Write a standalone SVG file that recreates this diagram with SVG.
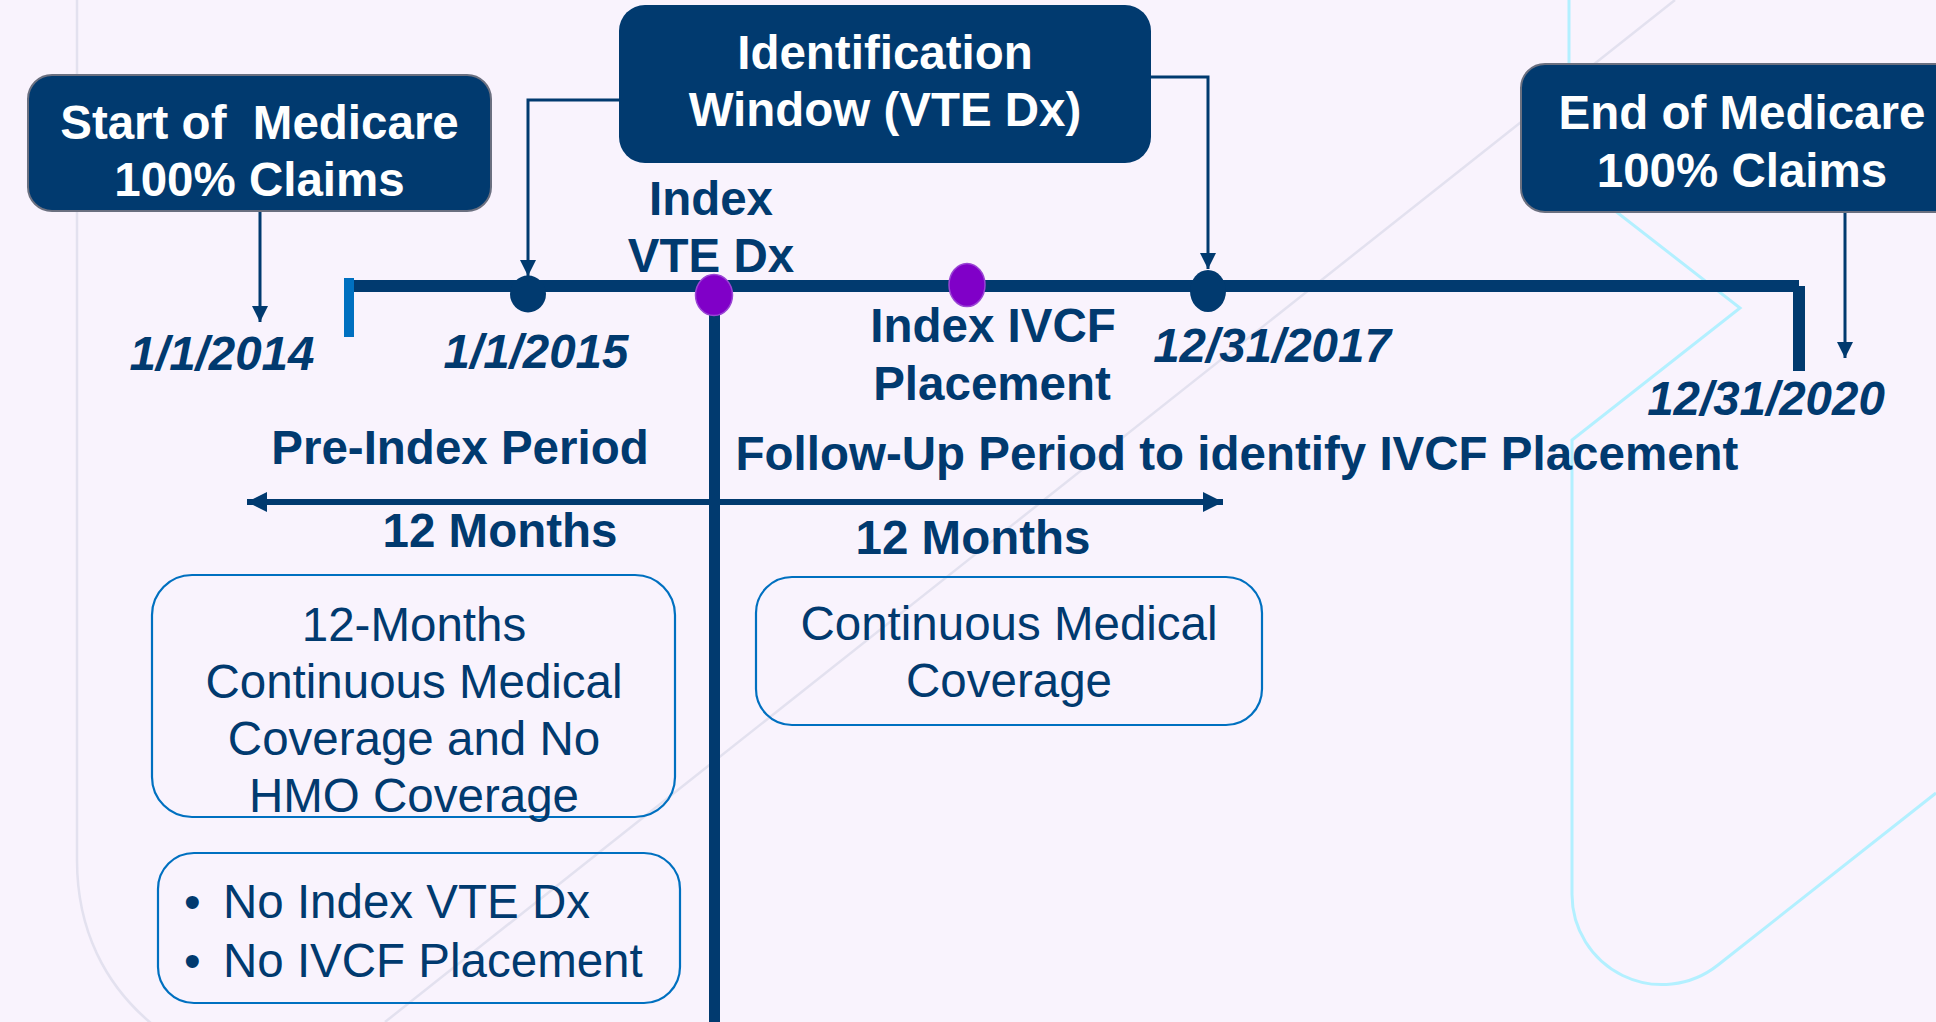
<svg xmlns="http://www.w3.org/2000/svg" width="1936" height="1022" viewBox="0 0 1936 1022">
<defs>
<style>
.bg{fill:#F9F3FD}
.deco-gray{fill:none;stroke:#E3E1EF;stroke-width:2.5}
.deco-cyan{fill:none;stroke:#B3F0FF;stroke-width:3}
.navybox{fill:#013A6F;stroke:#6B7080;stroke-width:2}
.wtxt{font-family:"Liberation Sans",Arial,sans-serif;font-weight:bold;font-size:47.5px;fill:#FFFFFF;text-anchor:middle;white-space:pre}
.btxt{font-family:"Liberation Sans",Arial,sans-serif;font-weight:bold;font-size:47.5px;fill:#013A6F;text-anchor:middle}
.dtxt{font-family:"Liberation Sans",Arial,sans-serif;font-weight:bold;font-style:italic;font-size:47.5px;fill:#013A6F;text-anchor:middle}
.rtxt{font-family:"Liberation Sans",Arial,sans-serif;font-size:47.5px;fill:#013A6F;text-anchor:middle}
.ltxt{font-family:"Liberation Sans",Arial,sans-serif;font-size:47.5px;fill:#013A6F}
.obox{fill:none;stroke:#0070C0;stroke-width:2.2}
.conn{fill:none;stroke:#013A6F;stroke-width:3}
.navy{fill:#013A6F}
.purple{fill:#8000C8;stroke:#9A45D4;stroke-width:1.5}
</style>
<marker id="ah" markerUnits="userSpaceOnUse" markerWidth="16" markerHeight="16" refX="16" refY="8" orient="auto">
<path d="M0,0 L16,8 L0,16 z" fill="#013A6F"/>
</marker>
<marker id="ahBig" markerUnits="userSpaceOnUse" markerWidth="22" markerHeight="22" refX="20" refY="11" orient="auto-start-reverse">
<path d="M0,1 L20,11 L0,21 z" fill="#013A6F"/>
</marker>
</defs>

<rect class="bg" x="0" y="0" width="1936" height="1022"/>

<g id="background-decoration">
<path class="deco-gray" d="M77,0 L77,860 C77,930 105,985 152,1024"/>
<path class="deco-gray" d="M1675,0 L385,1022"/>
<path class="deco-cyan" d="M1569,0 V175 L1740,308 L1572,440 V894 A90,90 0 0 0 1718,965 L1936,793"/>
</g>

<g id="timeline">
<line x1="349" y1="286" x2="1799" y2="286" stroke="#013A6F" stroke-width="12"/>
<rect x="1793" y="286" width="12" height="85" class="navy"/>
<rect x="344" y="278" width="10" height="59" fill="#0070C0"/>
<line x1="714.5" y1="294" x2="714.5" y2="1022" stroke="#013A6F" stroke-width="11"/>
</g>

<g id="connectors">
<line class="conn" x1="260" y1="211" x2="260" y2="322" marker-end="url(#ah)"/>
<path class="conn" d="M619,100 H528 V276" marker-end="url(#ah)"/>
<path class="conn" d="M1151,77 H1208 V269" marker-end="url(#ah)"/>
<line class="conn" x1="1845" y1="212" x2="1845" y2="358" marker-end="url(#ah)"/>
<line x1="247" y1="502" x2="1223" y2="502" stroke="#013A6F" stroke-width="6" marker-start="url(#ahBig)" marker-end="url(#ahBig)"/>
</g>

<g id="start-medicare">
<rect class="navybox" x="28" y="75" width="463" height="136" rx="24"/>
<text class="wtxt" x="259.5" y="139">Start of  Medicare</text>
<text class="wtxt" x="259.5" y="196">100% Claims</text>
</g>

<g id="identification-window">
<rect x="619" y="5" width="532" height="158" rx="26" fill="#013A6F"/>
<text class="wtxt" x="885" y="69">Identification</text>
<text class="wtxt" x="885" y="126">Window (VTE Dx)</text>
</g>

<g id="end-medicare">
<rect class="navybox" x="1521" y="64" width="460" height="148" rx="24"/>
<text class="wtxt" x="1742" y="129">End of Medicare</text>
<text class="wtxt" x="1742" y="187">100% Claims</text>
</g>

<g id="date-2014">
<text class="dtxt" x="222" y="370">1/1/2014</text>
</g>

<g id="date-2015">
<ellipse class="navy" cx="528" cy="294" rx="18" ry="18.5"/>
<text class="dtxt" x="536" y="368">1/1/2015</text>
</g>

<g id="index-vte">
<ellipse class="purple" cx="714" cy="295" rx="18.5" ry="20.5"/>
<text class="btxt" x="711" y="215">Index</text>
<text class="btxt" x="711" y="272">VTE Dx</text>
</g>

<g id="index-ivcf">
<ellipse class="purple" cx="967" cy="285" rx="18" ry="21.5"/>
<text class="btxt" x="993" y="342">Index IVCF</text>
<text class="btxt" x="992" y="400">Placement</text>
</g>

<g id="date-2017">
<ellipse class="navy" cx="1208" cy="291" rx="18" ry="21"/>
<text class="dtxt" x="1272" y="362">12/31/2017</text>
</g>

<g id="date-2020">
<text class="dtxt" x="1766" y="415">12/31/2020</text>
</g>

<g id="pre-index-period">
<text class="btxt" x="460" y="464">Pre-Index Period</text>
<text class="btxt" x="500" y="547">12 Months</text>
</g>

<g id="follow-up-period">
<text class="btxt" x="1237" y="470">Follow-Up Period to identify IVCF Placement</text>
<text class="btxt" x="973" y="554">12 Months</text>
</g>

<g id="pre-index-coverage">
<rect class="obox" x="152" y="575" width="523" height="242" rx="40"/>
<text class="rtxt" x="414" y="641">12-Months</text>
<text class="rtxt" x="414" y="698">Continuous Medical</text>
<text class="rtxt" x="414" y="755">Coverage and No</text>
<text class="rtxt" x="414" y="812">HMO Coverage</text>
</g>

<g id="pre-index-exclusions">
<rect class="obox" x="158" y="853" width="522" height="150" rx="36"/>
<text class="ltxt" x="184" y="918">•</text>
<text class="ltxt" x="223" y="918">No Index VTE Dx</text>
<text class="ltxt" x="184" y="977">•</text>
<text class="ltxt" x="223" y="977">No IVCF Placement</text>
</g>

<g id="follow-up-coverage">
<rect class="obox" x="756" y="577" width="506" height="148" rx="36"/>
<text class="rtxt" x="1009" y="640">Continuous Medical</text>
<text class="rtxt" x="1009" y="697">Coverage</text>
</g>
</svg>
